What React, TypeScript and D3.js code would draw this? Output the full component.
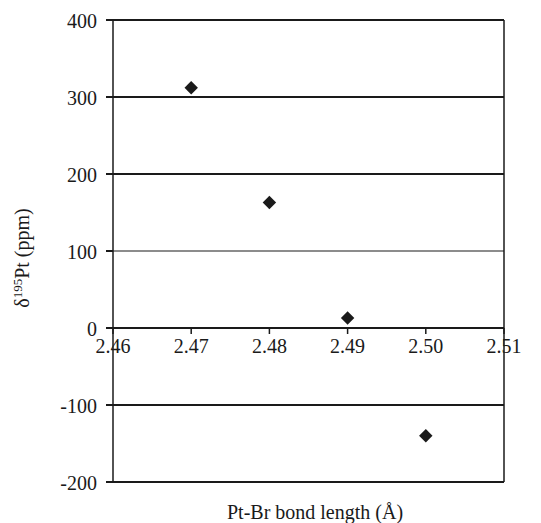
import React from "react";
import * as d3 from "d3";

const bondLengths = [2.47, 2.48, 2.49, 2.5];
const shifts = [312, 163, 13, -140];
const xTicks = [2.46, 2.47, 2.48, 2.49, 2.5, 2.51];
const yTicks = [-200, -100, 0, 100, 200, 300, 400];

export default function App() {
  const W = 541, H = 523;
  const left = 113, right = 504, top = 20, bottom = 482;
  const x = d3.scaleLinear().domain([2.46, 2.51]).range([left, right]);
  const y = d3.scaleLinear().domain([-200, 400]).range([bottom, top]);
  const marker = d3.symbol().type(d3.symbolSquare).size(90)();
  const font = "'Liberation Serif', 'Times New Roman', 'DejaVu Serif', serif";
  const ink = "#1a1a1a";
  return (
    <div style={{ position: "absolute", left: 0, top: 0 }}>
      <svg width={W} height={H} style={{ display: "block", background: "#fff", fontFamily: font }}>
        {yTicks.map((t) => (
          <line key={"g" + t} x1={left} x2={right} y1={y(t)} y2={y(t)}
            stroke={ink} strokeWidth={t === 100 ? 1.2 : 2} />
        ))}
        <line x1={left} x2={left} y1={top} y2={bottom} stroke={ink} strokeWidth={1.5} />
        <line x1={right} x2={right} y1={top} y2={bottom} stroke={ink} strokeWidth={1.5} />
        {yTicks.map((t) => (
          <g key={"y" + t}>
            <line x1={left - 7} x2={left} y1={y(t)} y2={y(t)} stroke={ink} strokeWidth={2} />
            <text x={97} y={y(t)} dy="0.42em" textAnchor="end" fontSize={20} fill={ink}>
              {t}
            </text>
          </g>
        ))}
        {xTicks.map((t) => (
          <g key={"x" + t}>
            <line x1={x(t)} x2={x(t)} y1={y(0)} y2={y(0) + 6} stroke={ink} strokeWidth={1.5} />
            <text x={x(t)} y={y(0) + 25} textAnchor="middle" fontSize={20} fill={ink}>
              {t.toFixed(2)}
            </text>
          </g>
        ))}
        {bondLengths.map((b, i) => (
          <path key={"p" + i} d={marker} transform={`translate(${x(b)},${y(shifts[i])}) rotate(45)`} fill={ink} />
        ))}
        <text x={315} y={519} textAnchor="middle" fontSize={20} fill={ink}>
          Pt-Br bond length (Å)
        </text>
        <text transform={`translate(29,258) rotate(-90)`} textAnchor="middle" fontSize={20} fill={ink}>
          δ<tspan dy="-7" fontSize={13}>195</tspan><tspan dy="7">Pt (ppm)</tspan>
        </text>
      </svg>
    </div>
  );
}
